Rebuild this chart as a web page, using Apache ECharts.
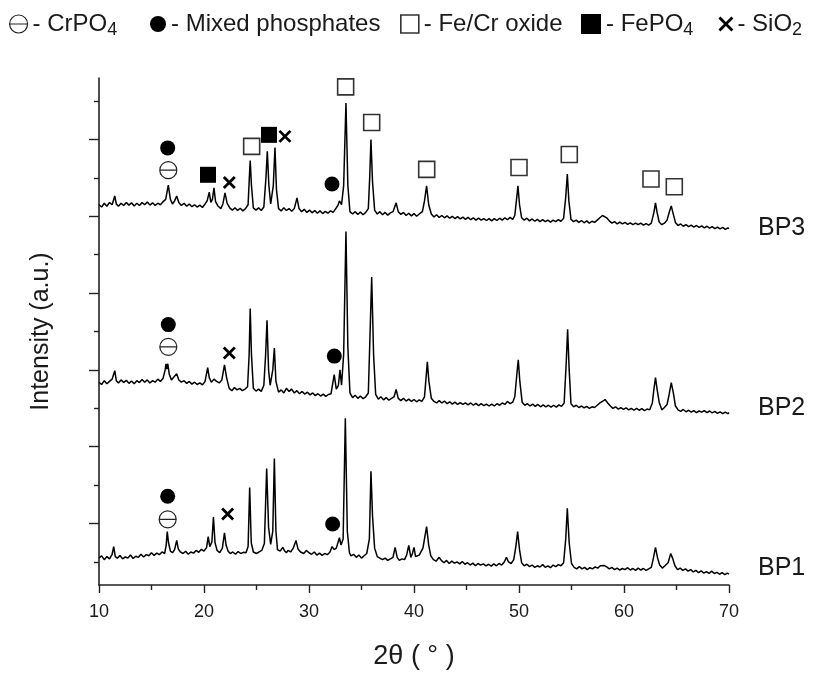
<!DOCTYPE html>
<html><head><meta charset="utf-8">
<script src="https://cdn.jsdelivr.net/npm/echarts@6/dist/echarts.min.js"></script>
<style>html,body{margin:0;padding:0;background:#fff}#c{width:814px;height:675px}</style>
</head><body><div id="c"></div>
<script>
// 2θ (deg), intensity (a.u., offset stacked)
const bp1 = [[10.0,70],[10.25,76],[10.5,66],[10.75,74],[11.0,68],[11.25,80],[11.4,100],[11.55,74],[11.75,70],[12.0,77],[12.25,68],[12.5,73],[12.75,70],[13.0,78],[13.25,69],[13.5,75],[13.75,72],[14.0,80],[14.25,73],[14.5,79],[14.75,76],[15.0,84],[15.25,77],[15.5,83],[15.75,79],[16.0,86],[16.25,82],[16.4,104],[16.5,139],[16.62,110],[16.8,88],[17.0,84],[17.2,92],[17.4,116],[17.55,94],[17.75,86],[18.0,82],[18.25,88],[18.5,80],[18.75,86],[19.0,83],[19.25,90],[19.5,85],[19.75,93],[20.0,88],[20.25,98],[20.4,126],[20.55,100],[20.75,112],[20.9,177],[21.05,110],[21.25,90],[21.5,84],[21.75,96],[21.95,136],[22.1,104],[22.3,88],[22.5,82],[22.75,86],[23.0,80],[23.25,87],[23.5,82],[23.75,85],[24.0,84],[24.2,100],[24.35,254],[24.5,110],[24.7,86],[25.0,82],[25.25,86],[25.5,90],[25.75,108],[25.97,303],[26.15,150],[26.35,106],[26.55,140],[26.7,329],[26.85,140],[27.0,92],[27.25,88],[27.5,98],[27.65,90],[27.85,84],[28.0,90],[28.25,86],[28.5,96],[28.76,116],[28.95,94],[29.2,86],[29.5,82],[29.75,90],[30.0,84],[30.25,80],[30.5,86],[30.75,78],[31.0,83],[31.25,77],[31.5,82],[31.75,79],[32.0,86],[32.2,100],[32.4,92],[32.6,96],[32.9,123],[33.05,104],[33.25,120],[33.46,434],[33.65,140],[33.85,84],[34.0,76],[34.25,80],[34.5,72],[34.75,78],[35.0,70],[35.25,76],[35.5,82],[35.75,120],[35.9,296],[36.05,180],[36.25,96],[36.5,74],[36.75,70],[37.0,66],[37.25,70],[37.5,64],[37.75,68],[38.0,72],[38.2,98],[38.4,72],[38.6,64],[38.85,68],[39.1,66],[39.3,78],[39.5,103],[39.7,72],[39.85,82],[40.0,98],[40.15,74],[40.5,78],[40.85,96],[41.0,120],[41.2,152],[41.4,104],[41.6,76],[41.85,66],[42.1,62],[42.4,72],[42.6,64],[42.85,58],[43.1,64],[43.35,56],[43.6,62],[43.85,57],[44.1,60],[44.35,55],[44.6,61],[44.85,54],[45.1,58],[45.35,52],[45.6,57],[45.85,50],[46.1,56],[46.35,52],[46.6,55],[46.85,50],[47.1,54],[47.35,49],[47.6,55],[47.85,50],[48.1,56],[48.35,52],[48.6,60],[48.8,72],[49.0,60],[49.25,56],[49.5,66],[49.7,100],[49.87,139],[50.05,92],[50.25,58],[50.5,50],[50.75,54],[51.0,48],[51.25,52],[51.5,46],[51.75,50],[52.0,47],[52.25,53],[52.5,46],[52.75,50],[53.0,45],[53.25,52],[53.5,48],[53.75,53],[54.0,50],[54.25,58],[54.45,120],[54.6,200],[54.78,110],[55.0,56],[55.25,46],[55.5,42],[55.75,48],[56.0,42],[56.25,46],[56.5,40],[56.75,45],[57.0,42],[57.25,47],[57.5,44],[57.75,50],[58.1,51],[58.35,47],[58.6,42],[58.85,46],[59.1,40],[59.35,44],[59.6,39],[59.85,43],[60.1,40],[60.35,45],[60.6,39],[60.85,43],[61.1,38],[61.35,44],[61.6,39],[61.85,43],[62.1,38],[62.35,42],[62.6,46],[62.8,70],[63.0,98],[63.2,70],[63.4,52],[63.65,44],[63.9,50],[64.2,58],[64.45,82],[64.65,68],[64.85,50],[65.1,40],[65.35,44],[65.6,38],[65.85,42],[66.1,36],[66.35,40],[66.6,34],[66.85,38],[67.1,32],[67.35,37],[67.6,31],[67.85,35],[68.1,30],[68.35,36],[68.6,30],[68.85,33],[69.1,28],[69.35,32],[69.6,27],[69.85,31],[70.0,28]];

const bp2 = [[10.0,528],[10.25,522],[10.5,532],[10.75,524],[11.0,530],[11.25,536],[11.5,558],[11.65,532],[11.85,526],[12.1,534],[12.35,527],[12.6,533],[12.85,525],[13.1,531],[13.35,524],[13.6,532],[13.85,527],[14.1,535],[14.35,528],[14.6,534],[14.85,526],[15.1,532],[15.35,528],[15.6,536],[15.85,530],[16.1,538],[16.3,560],[16.38,576],[16.45,562],[16.55,576],[16.7,548],[16.9,534],[17.15,542],[17.4,550],[17.6,534],[17.85,528],[18.1,532],[18.35,525],[18.6,530],[18.85,523],[19.1,528],[19.35,522],[19.6,526],[19.85,521],[20.1,530],[20.35,566],[20.5,540],[20.7,528],[20.95,536],[21.2,530],[21.45,526],[21.7,534],[21.95,573],[22.15,540],[22.4,512],[22.65,506],[22.9,514],[23.15,508],[23.4,512],[23.65,506],[23.9,510],[24.15,516],[24.3,600],[24.4,720],[24.52,600],[24.7,512],[24.95,505],[25.2,510],[25.45,504],[25.7,520],[25.87,600],[26.0,689],[26.15,560],[26.3,520],[26.55,560],[26.7,617],[26.85,530],[27.1,502],[27.35,508],[27.6,500],[27.85,512],[28.1,504],[28.35,510],[28.6,500],[28.85,506],[29.1,498],[29.35,504],[29.6,497],[29.85,502],[30.1,495],[30.35,500],[30.6,493],[30.85,498],[31.1,492],[31.35,497],[31.6,491],[31.85,496],[32.1,498],[32.4,548],[32.6,510],[32.8,520],[32.95,560],[33.1,520],[33.3,600],[33.52,920],[33.7,620],[33.9,500],[34.15,488],[34.4,494],[34.65,486],[34.9,492],[35.15,485],[35.4,490],[35.65,500],[35.8,640],[35.97,802],[36.15,600],[36.35,496],[36.6,484],[36.85,490],[37.1,482],[37.35,488],[37.6,481],[37.85,486],[38.1,490],[38.3,509],[38.5,486],[38.75,480],[39.0,486],[39.25,479],[39.5,484],[39.75,478],[40.0,483],[40.25,477],[40.5,482],[40.75,478],[41.0,490],[41.15,540],[41.27,581],[41.42,530],[41.65,486],[41.9,478],[42.15,474],[42.4,480],[42.65,474],[42.9,479],[43.15,472],[43.4,477],[43.65,471],[43.9,476],[44.15,470],[44.4,475],[44.65,470],[44.9,474],[45.15,469],[45.4,474],[45.65,468],[45.9,473],[46.15,467],[46.4,472],[46.65,467],[46.9,471],[47.15,466],[47.4,471],[47.65,466],[47.9,472],[48.15,468],[48.4,474],[48.65,470],[48.9,478],[49.15,472],[49.4,476],[49.6,490],[49.8,550],[49.93,586],[50.08,530],[50.3,476],[50.55,468],[50.8,472],[51.05,466],[51.3,471],[51.55,465],[51.8,470],[52.05,464],[52.3,469],[52.55,464],[52.8,468],[53.05,463],[53.3,468],[53.55,463],[53.8,469],[54.05,465],[54.3,474],[54.5,580],[54.63,666],[54.78,560],[54.95,472],[55.2,464],[55.45,468],[55.7,462],[55.95,466],[56.2,461],[56.45,465],[56.7,460],[56.95,464],[57.2,462],[57.45,468],[57.7,474],[57.95,478],[58.2,483],[58.45,474],[58.7,466],[58.95,460],[59.2,464],[59.45,458],[59.7,462],[59.95,457],[60.2,461],[60.45,456],[60.7,460],[60.95,455],[61.2,460],[61.45,455],[61.7,459],[61.95,454],[62.2,458],[62.45,456],[62.7,474],[62.85,510],[63.0,540],[63.15,510],[63.35,476],[63.6,456],[63.85,462],[64.1,470],[64.3,496],[64.5,527],[64.7,500],[64.9,466],[65.15,456],[65.4,452],[65.65,457],[65.9,451],[66.15,455],[66.4,450],[66.65,454],[66.9,449],[67.15,453],[67.4,450],[67.65,454],[67.9,449],[68.15,453],[68.4,448],[68.65,452],[68.9,447],[69.15,451],[69.4,446],[69.65,450],[69.9,446],[70.0,449]];

const bp3 = [[10.0,990],[10.25,984],[10.5,994],[10.75,986],[11.0,996],[11.25,990],[11.5,1013],[11.65,992],[11.85,986],[12.1,994],[12.35,988],[12.6,996],[12.85,989],[13.1,995],[13.35,987],[13.6,994],[13.85,988],[14.1,996],[14.35,990],[14.6,997],[14.85,989],[15.1,995],[15.35,988],[15.6,994],[15.85,990],[16.1,998],[16.35,1004],[16.6,1041],[16.8,1004],[17.0,992],[17.2,1000],[17.4,1013],[17.6,996],[17.85,988],[18.1,994],[18.35,986],[18.6,992],[18.85,985],[19.1,990],[19.35,984],[19.6,989],[19.85,983],[20.1,992],[20.3,1000],[20.5,1023],[20.65,996],[20.8,1004],[20.95,1034],[21.1,998],[21.35,986],[21.6,980],[21.8,992],[22.0,1021],[22.2,994],[22.45,982],[22.7,976],[22.95,982],[23.2,975],[23.45,981],[23.7,974],[23.95,980],[24.2,990],[24.3,1050],[24.4,1105],[24.52,1040],[24.7,982],[24.95,976],[25.2,982],[25.45,975],[25.7,984],[25.9,1060],[26.03,1129],[26.18,1040],[26.35,992],[26.6,1040],[26.76,1139],[26.9,1030],[27.1,980],[27.35,974],[27.6,982],[27.85,975],[28.1,980],[28.35,973],[28.6,980],[28.86,1008],[29.05,980],[29.3,972],[29.55,978],[29.8,970],[30.05,976],[30.3,969],[30.55,975],[30.8,968],[31.05,974],[31.3,967],[31.55,973],[31.8,968],[32.05,974],[32.3,970],[32.55,980],[32.75,988],[32.9,1000],[33.1,990],[33.3,1040],[33.52,1255],[33.7,1040],[33.9,972],[34.15,966],[34.4,972],[34.65,965],[34.9,971],[35.15,964],[35.4,970],[35.65,980],[35.78,1060],[35.9,1160],[36.05,1050],[36.25,976],[36.5,966],[36.75,972],[37.0,964],[37.25,970],[37.5,963],[37.75,969],[38.0,972],[38.3,995],[38.5,972],[38.75,965],[39.0,970],[39.25,962],[39.5,968],[39.75,961],[40.0,967],[40.25,960],[40.5,966],[40.8,972],[41.0,1000],[41.2,1039],[41.4,990],[41.65,966],[41.9,958],[42.15,964],[42.4,957],[42.65,962],[42.9,956],[43.15,961],[43.4,955],[43.65,960],[43.9,954],[44.15,959],[44.4,953],[44.65,958],[44.9,952],[45.15,957],[45.4,951],[45.65,956],[45.9,950],[46.15,955],[46.4,950],[46.65,954],[46.9,949],[47.15,954],[47.4,948],[47.65,954],[47.9,949],[48.15,955],[48.4,950],[48.65,956],[48.9,951],[49.15,957],[49.4,952],[49.6,962],[49.75,1000],[49.9,1039],[50.05,990],[50.25,956],[50.5,950],[50.75,955],[51.0,948],[51.25,953],[51.5,947],[51.75,952],[52.0,946],[52.25,951],[52.5,946],[52.75,950],[53.0,945],[53.25,950],[53.5,946],[53.75,951],[54.0,947],[54.25,955],[54.45,1010],[54.6,1070],[54.75,1000],[54.95,952],[55.2,946],[55.45,950],[55.7,944],[55.95,949],[56.2,943],[56.45,948],[56.7,942],[56.95,947],[57.2,944],[57.45,950],[57.7,956],[57.95,962],[58.1,967],[58.35,956],[58.6,948],[58.85,942],[59.1,946],[59.35,940],[59.6,945],[59.85,940],[60.1,944],[60.35,939],[60.6,943],[60.85,938],[61.1,942],[61.35,938],[61.6,942],[61.85,937],[62.1,941],[62.35,937],[62.6,942],[62.85,970],[63.0,995],[63.15,970],[63.35,945],[63.6,938],[63.85,942],[64.1,950],[64.3,970],[64.5,987],[64.7,965],[64.9,944],[65.15,936],[65.4,940],[65.65,934],[65.9,938],[66.15,933],[66.4,937],[66.65,932],[66.9,936],[67.15,931],[67.4,935],[67.65,930],[67.9,934],[68.15,929],[68.4,933],[68.65,928],[68.9,932],[69.15,927],[69.4,931],[69.65,926],[69.9,930],[70.0,928]];

// phase markers [2θ, intensity]
const crpo4Marks = [[16.6,1080],[16.6,620],[16.54,171]];
const mixedMarks = [[16.54,1138],[32.19,1044],[16.6,678],[32.41,596],[16.54,231],[32.25,159]];
const oxideMarks = [[24.54,1142],[33.49,1297],[35.97,1204],[41.21,1082],[50.0,1087],[54.79,1121],[62.57,1057],[64.79,1037]];
const fepo4Marks = [[20.38,1068],[26.19,1172]];
const sio2Marks  = [[22.41,1048],[27.71,1168],[22.41,604],[22.25,185]];

const xTicks = [10, 20, 30, 40, 50, 60, 70];
const yMajorTicks = [160, 360, 560, 760, 960, 1160];
const yMinorTicks = [60, 260, 460, 660, 860, 1060, 1260];
const sampleLabels = ['BP3', 'BP2', 'BP1'];
const phaseNames = ['CrPO4', 'Mixed phosphates', 'Fe/Cr oxide', 'FePO4', 'SiO2'];
const phaseTexts = ['- CrPO{s|4}', '- Mixed phosphates{s| }', '- Fe/Cr oxide{s| }', '- FePO{s|4}', '- SiO{s|2}'];

const FONT = '"Liberation Sans", Arial, sans-serif';
const C = '#1a1a1a';
const circBar = 'path://M0,-10 C5.523,-10 10,-5.523 10,0 C10,5.523 5.523,10 0,10 C-5.523,10 -10,5.523 -10,0 C-10,-5.523 -5.523,-10 0,-10 Z M-10,0 L10,0';
const cross = 'path://M0,0 L10,10 M10,0 L0,10';

const chart = echarts.init(document.getElementById('c'), null, {renderer: 'canvas'});
const lineSeries = (name, data) => ({
  name, type: 'line', data, showSymbol: false, symbol: 'none', silent: true,
  lineStyle: {color: '#000', width: 1.5}, z: 2, animation: false
});
const mk = (name, data, symbol, size, style) => ({
  name, type: 'scatter', data, symbol, symbolSize: size, itemStyle: style, z: 5, animation: false, silent: true
});
const stOpen = {color: '#fff', borderColor: '#333', borderWidth: 1.6, opacity: 1};
const stBar = {color: '#fff', borderColor: '#222', borderWidth: 1.2, opacity: 1};
const stFill = {color: '#000', opacity: 1};
const stCross = {color: 'rgba(0,0,0,0)', borderColor: '#000', borderWidth: 2.8, opacity: 1};

const legendStyle = {fontSize: 24, color: C, fontFamily: FONT,
  rich: {s: {fontSize: 18, color: C, fontFamily: FONT, padding: [12, 0, 0, 0]}}};
const mkLegend = (i, left, icon, size, style) => ({
  left, top: 12, padding: 0, itemWidth: size, itemHeight: size, selectedMode: false,
  data: [{name: phaseNames[i], icon, itemStyle: style}],
  formatter: () => phaseTexts[i],
  textStyle: legendStyle
});

chart.setOption({
  animation: false,
  textStyle: {fontFamily: FONT},
  grid: {left: 99, right: 85, top: 78, bottom: 84},
  legend: [
    mkLegend(0, 9, circBar, 18, stBar),
    mkLegend(1, 150, 'circle', 16, stFill),
    mkLegend(2, 400, 'rect', 18, stOpen),
    mkLegend(3, 581, 'rect', 20, stFill),
    mkLegend(4, 718, cross, 13, stCross)
  ],
  xAxis: {
    type: 'value', min: xTicks[0], max: xTicks[xTicks.length - 1], interval: 10,
    name: '2θ ( ° )', nameLocation: 'middle', nameGap: 58,
    nameTextStyle: {fontSize: 27, color: C, fontFamily: FONT},
    axisLine: {lineStyle: {color: '#222', width: 1.6}},
    axisTick: {length: 8, lineStyle: {color: '#222', width: 1.4}},
    minorTick: {show: true, splitNumber: 2, length: 5, lineStyle: {color: '#222', width: 1.4}},
    axisLabel: {fontSize: 18, color: C, margin: 18, fontFamily: FONT},
    splitLine: {show: false}
  },
  yAxis: [{
    type: 'value', min: 0, max: 1320,
    name: 'Intensity (a.u.)', nameLocation: 'middle', nameGap: 45,
    nameTextStyle: {fontSize: 25, color: C, fontFamily: FONT},
    axisLine: {show: true, lineStyle: {color: '#222', width: 1.6}},
    axisTick: {show: true, length: 10, customValues: yMajorTicks, lineStyle: {color: '#222', width: 1.4}},
    axisLabel: {show: false},
    splitLine: {show: false}
  }, {
    type: 'value', min: 0, max: 1320, position: 'left',
    axisLine: {show: false},
    axisTick: {show: true, length: 5, customValues: yMinorTicks, lineStyle: {color: '#222', width: 1.4}},
    axisLabel: {show: false},
    splitLine: {show: false}
  }],
  graphic: [
    {type: 'text', x: 758, y: 228, style: {text: sampleLabels[0], font: '25px ' + FONT, fill: C, verticalAlign: 'middle'}},
    {type: 'text', x: 758, y: 408, style: {text: sampleLabels[1], font: '25px ' + FONT, fill: C, verticalAlign: 'middle'}},
    {type: 'text', x: 758, y: 568, style: {text: sampleLabels[2], font: '25px ' + FONT, fill: C, verticalAlign: 'middle'}}
  ],
  series: [
    lineSeries('BP1', bp1),
    lineSeries('BP2', bp2),
    lineSeries('BP3', bp3),
    mk(phaseNames[0], crpo4Marks, circBar, 17, stBar),
    mk(phaseNames[1], mixedMarks, 'circle', 15, stFill),
    mk(phaseNames[2], oxideMarks, 'rect', 16, stOpen),
    mk(phaseNames[3], fepo4Marks, 'rect', 16, stFill),
    mk(phaseNames[4], sio2Marks, cross, 11, stCross)
  ]
});
</script></body></html>
